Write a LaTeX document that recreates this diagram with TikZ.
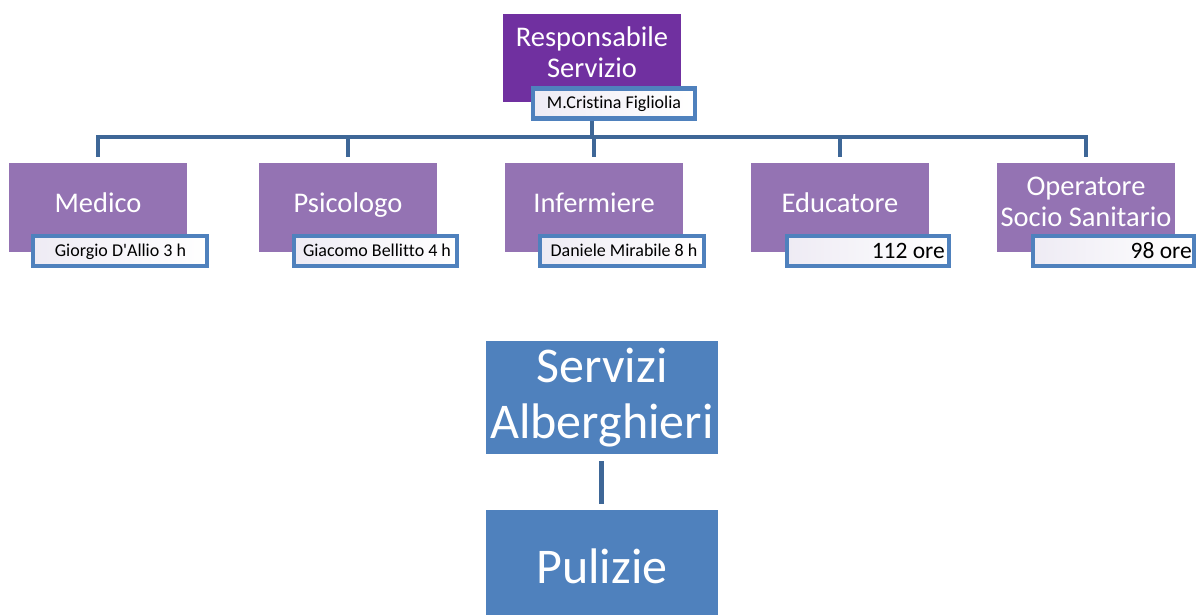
\documentclass[tikz,border=0pt]{standalone}
\usepackage{fontspec}
\setmainfont{Carlito}[Ligatures={TeXOff,NoCommon}]
\definecolor{topPurple}{HTML}{7030A0}
\definecolor{childPurple}{HTML}{9473B3}
\definecolor{boxBlue}{HTML}{4F81BD}
\definecolor{connBlue}{HTML}{3E6797}
\definecolor{nameFill}{HTML}{EEEBF4}
\begin{document}
\begin{tikzpicture}[x=1pt,y=-1pt,
  topbox/.style={fill=topPurple, draw=none, inner sep=0pt, minimum width=178pt, minimum height=88pt},
  childbox/.style={fill=childPurple, draw=none, inner sep=0pt, minimum width=178pt, minimum height=89pt},
  bluebox/.style={fill=boxBlue, draw=none, inner sep=0pt, minimum width=232pt},
  namebox/.style={draw=boxBlue, line width=4.5pt, left color=nameFill, right color=white, inner sep=0pt, minimum height=30pt},
  bigtxt/.style={text=white, align=center, font=\fontsize{28.5}{31}\selectfont, inner sep=0pt},
  hugetxt/.style={text=white, align=center, font=\fontsize{50}{56}\selectfont, inner sep=0pt},
  nametxt/.style={font=\fontsize{18}{20}\selectfont, inner sep=0pt, anchor=base},
  oretxt/.style={font=\fontsize{23.5}{26}\selectfont, inner sep=0pt, anchor=base east},
  conn/.style={draw=connBlue, line width=4.5pt, line join=miter}
]
\useasboundingbox (0,0) rectangle (1198,615);

% top
\node[topbox] (resp) at (592,58) {};
\node[bigtxt] (resptxt) at (592,52.5) {Responsabile\\Servizio};
\node[namebox, minimum width=162pt] (respname) at (614,103.5) {};
\node[nametxt] (respnametxt) at (614,109) {M.Cristina Figliolia};

% children
\node[childbox] (medico) at (98,207.5) {};
\node[childbox] (psico) at (348,207.5) {};
\node[childbox] (inf) at (594,207.5) {};
\node[childbox] (edu) at (840,207.5) {};
\node[childbox] (oss) at (1086,207.5) {};

\node[bigtxt, anchor=base] (medicotxt) at (98,212) {Medico};
\node[bigtxt, anchor=base] (psicotxt) at (348,212) {Psicologo};
\node[bigtxt, anchor=base] (inftxt) at (594,212) {Infermiere};
\node[bigtxt, anchor=base] (edutxt) at (840,212) {Educatore};
\node[bigtxt] (osstxt) at (1086,202) {Operatore\\Socio Sanitario};

% name boxes
\node[namebox, minimum width=174pt] (medname) at (120,251) {};
\node[namebox, minimum width=163pt] (psiname) at (375.5,251) {};
\node[namebox, minimum width=164pt] (infname) at (622,251) {};
\node[namebox, minimum width=162pt] (eduname) at (868,251) {};
\node[namebox, minimum width=161pt] (ossname) at (1113.5,251) {};

\node[nametxt] (mednametxt) at (120.5,256) {Giorgio D'Allio 3 h};
\node[nametxt] (psinametxt) at (377,256) {Giacomo Bellitto 4 h};
\node[nametxt] (infnametxt) at (624,256) {Daniele Mirabile 8 h};
\node[oretxt] (edunametxt) at (945,258) {112 ore};
\node[oretxt] (ossnametxt) at (1192,258) {98 ore};

% connectors
\coordinate (hub) at (592,137);
\draw[conn] (resp.south |- respname.south) -- (hub);
\draw[conn] ([yshift=6pt]medico.north) |- (hub);
\draw[conn] ([yshift=6pt]psico.north) |- (hub);
\draw[conn] ([yshift=6pt]inf.north) |- (hub);
\draw[conn] ([yshift=6pt]edu.north) |- (hub);
\draw[conn] ([yshift=6pt]oss.north) |- (hub);

% bottom
\node[bluebox, minimum height=113pt] (serv) at (602,397.5) {};
\node[hugetxt] (servtxt) at (602,398) {Servizi\\Alberghieri};
\node[bluebox, minimum height=110pt] (pul) at (602,565) {};
\node[hugetxt, anchor=base] (pultxt) at (602,583) {Pulizie};
\draw[conn, line width=5pt] ([yshift=-7pt]serv.south -| 601,0) -- ([yshift=6pt]pul.north -| 601,0);
\end{tikzpicture}
\end{document}
